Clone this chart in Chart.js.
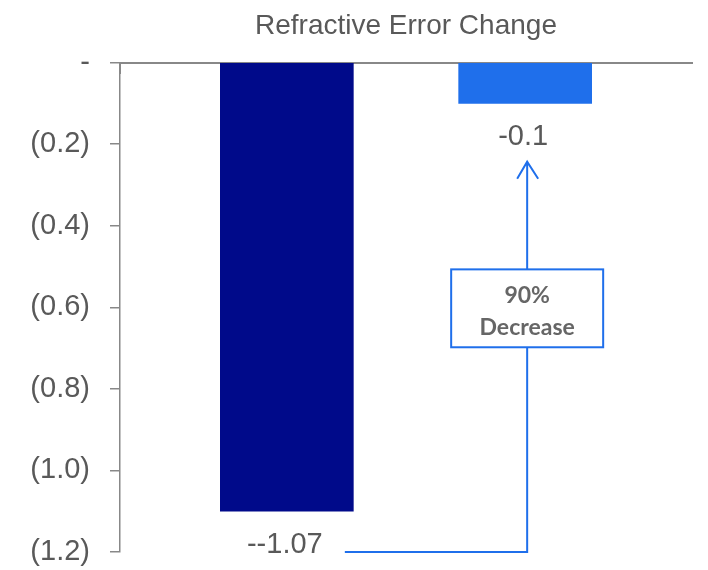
<!DOCTYPE html>
<html>
<head>
<meta charset="utf-8">
<script src="https://cdn.jsdelivr.net/npm/chart.js@4/dist/chart.umd.min.js"></script>
<style>
  html, body { margin: 0; padding: 0; background: #ffffff; }
  #wrap { width: 708px; height: 570px; position: relative; }
</style>
</head>
<body>
<div id="wrap"><canvas id="c" width="708" height="570"></canvas></div>
<script>
// ---- data ----
const categories = ['Group 1', 'Group 2'];
const changeValues = [-1.1, -0.1];
const valueLabels = ['--1.07', '-0.1'];
const yTickValues = [0, -0.2, -0.4, -0.6, -0.8, -1.0, -1.2];
const chartTitle = 'Refractive Error Change';
const calloutLines = ['90%', 'Decrease'];

const TEXT = '#595959';
const AXIS = '#888888';
const BLUE = '#1F6FEB';

const calloutPlugin = {
  id: 'callout',
  afterDatasetsDraw(chart) {
    const ctx = chart.ctx;
    const ys = chart.scales.y;
    const bars = chart.getDatasetMeta(0).data;
    ctx.save();
    // value labels
    ctx.font = '29px "Liberation Sans", Arial, sans-serif';
    ctx.fillStyle = TEXT;
    ctx.textAlign = 'center';
    ctx.textBaseline = 'middle';
    bars.forEach((b, i) => {
      ctx.fillText(valueLabels[i], b.x - 2, b.y + 34);
    });
    // annotation arrow
    const ax = bars[1].x + 2;
    const tipY = ys.getPixelForValue(-0.243);
    const boxTop = ys.getPixelForValue(-0.507);
    const boxBottom = ys.getPixelForValue(-0.698);
    const baseY = ys.getPixelForValue(-1.2);
    const startX = bars[0].x + 58;
    const boxW = 152;
    ctx.strokeStyle = BLUE;
    ctx.lineWidth = 2;
    ctx.beginPath();
    ctx.moveTo(startX, baseY);
    ctx.lineTo(ax, baseY);
    ctx.lineTo(ax, boxBottom);
    ctx.moveTo(ax, boxTop);
    ctx.lineTo(ax, tipY);
    ctx.moveTo(ax - 10, tipY + 17);
    ctx.lineTo(ax, tipY);
    ctx.lineTo(ax + 11, tipY + 17);
    ctx.stroke();
    ctx.fillStyle = '#ffffff';
    ctx.fillRect(ax - boxW / 2, boxTop, boxW, boxBottom - boxTop);
    ctx.strokeRect(ax - boxW / 2, boxTop, boxW, boxBottom - boxTop);
    ctx.fillStyle = '#666666';
    ctx.font = 'bold 23px Lato, "Open Sans", sans-serif';
    ctx.fillText(calloutLines[0], ax, boxTop + 26);
    ctx.fillText(calloutLines[1], ax, boxTop + 58);
    ctx.restore();
  }
};

new Chart(document.getElementById('c'), {
  type: 'bar',
  data: {
    datasets: [{
      label: 'Refractive Error Change',
      data: categories.map((c, i) => ({ x: i, y: changeValues[i] })),
      backgroundColor: ['#000A8A', '#1F6FEB'],
      borderWidth: 0,
      barThickness: 133
    }]
  },
  options: {
    responsive: false,
    animation: false,
    devicePixelRatio: 1,
    layout: { padding: { left: 0, right: 16, top: 0, bottom: 18 } },
    plugins: {
      legend: { display: false },
      tooltip: { enabled: false },
      title: {
        display: true,
        fullSize: false,
        text: chartTitle,
        color: TEXT,
        font: { family: '"Liberation Sans", Arial, sans-serif', size: 28, weight: 'normal' },
        padding: { top: 9, bottom: 20 }
      }
    },
    scales: {
      x: {
        type: 'linear',
        offset: false,
        min: -0.7,
        max: 1.7,
        position: { y: 0 },
        afterBuildTicks(scale) { scale.ticks = [{ value: 1.7 }]; },
        afterFit(scale) { scale.height = 0; scale.paddingBottom = 0; scale.paddingTop = 0; },
        ticks: { display: false },
        grid: { drawOnChartArea: false, tickLength: 10, color: AXIS, lineWidth: 2 },
        border: { display: true, color: AXIS, width: 2 }
      },
      y: {
        min: -1.2,
        max: 0,
        afterBuildTicks(scale) { scale.ticks = yTickValues.map(v => ({ value: v })); },
        afterFit(scale) { scale.width = 120; scale.paddingBottom = 0; scale.paddingTop = 0; },
        ticks: {
          color: TEXT,
          padding: 20,
          font: { family: '"Liberation Sans", Arial, sans-serif', size: 29 },
          callback: (v) => Math.abs(v) < 1e-9 ? '-' : '(' + Math.abs(v).toFixed(1) + ')'
        },
        grid: { drawOnChartArea: false, tickLength: 10, color: AXIS, lineWidth: 1.5 },
        border: { display: true, color: AXIS, width: 1.5 }
      }
    }
  },
  plugins: [calloutPlugin]
});
</script>
</body>
</html>
